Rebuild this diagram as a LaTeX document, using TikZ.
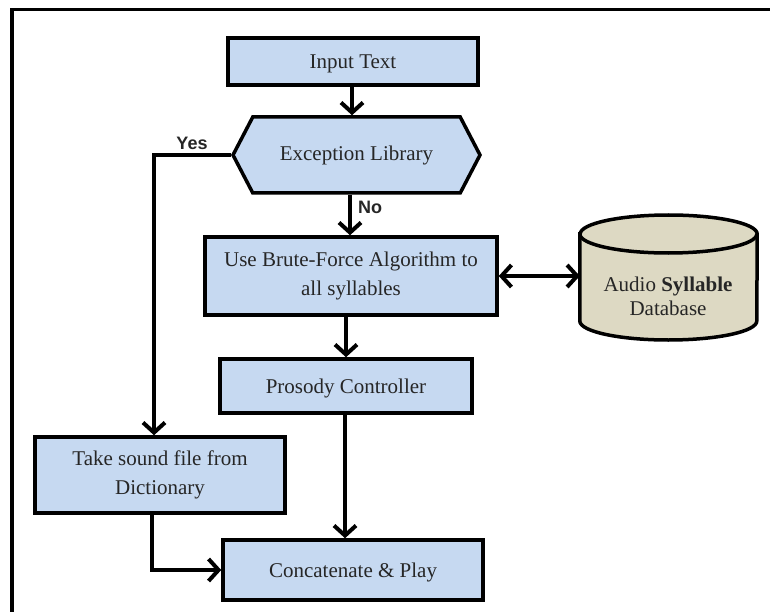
\documentclass[tikz,border=0pt]{standalone}
\usepackage{fontspec}
\setmainfont{Liberation Serif}
\newfontfamily\answerfont{Liberation Sans}
\usetikzlibrary{arrows.meta,shapes.geometric,shapes.symbols}

\definecolor{boxblue}{HTML}{C6D9F1}
\definecolor{dbtan}{HTML}{DDD9C3}
\definecolor{inkgray}{HTML}{262626}

\tikzset{
  box/.style={draw=black, line width=3.5pt, fill=boxblue, text=inkgray,
    font=\fontsize{21}{29}\selectfont, align=center, inner sep=0pt},
  hexbox/.style={box, signal, signal to=west and east, signal pointer angle=125},
  dbline/.style={draw=black, line width=3.5pt},
  arr/.style={line width=4pt, -{Straight Barb[length=10pt,width=22pt]}},
  dblarr/.style={line width=4pt, {Straight Barb[length=10pt,width=22pt]}-{Straight Barb[length=10pt,width=22pt]}},
  answer/.style={font=\answerfont\bfseries\fontsize{18}{20}\selectfont, text=inkgray, inner sep=0pt}
}

\begin{document}
\begin{tikzpicture}[x=1pt,y=-1pt]
\useasboundingbox (0,0) rectangle (770,612);

% frame edges
\draw[line width=3.8pt, line join=miter] (770,9.5) -- (12,9.5) -- (12,612);

% process steps
\node[box, minimum width=250, minimum height=47, text depth=-2pt] (input) at (353,61.5) {Input Text};
\node[hexbox, minimum width=247, minimum height=76] (exc) at (356.5,155) {Exception Library};
\node[box, minimum width=292, minimum height=78] (brute) at (351,276) {Use Brute-Force Algorithm to\\all syllables};
\node[box, minimum width=252, minimum height=54, text depth=-1pt] (pros) at (346,386) {Prosody Controller};
\node[box, minimum width=250, minimum height=76] (take) at (160,475) {Take sound file from\\Dictionary};
\node[box, minimum width=260, minimum height=60, text depth=-1pt] (conc) at (353,570) {Concatenate \& Play};

% syllable store: a cylinder standing upright
\node[minimum width=177, minimum height=125, inner sep=0pt] (db) at (668.5,277.5) {};
\draw[dbline, fill=dbtan] (db.west |- 0,234) -- (db.west |- 0,321)
  arc[start angle=180, end angle=360, x radius=88.5pt, y radius=19pt]
  -- (db.east |- 0,234)
  arc[start angle=0, end angle=180, x radius=88.5pt, y radius=19pt] -- cycle;
\draw[dbline] (db.west |- 0,234)
  arc[start angle=180, end angle=360, x radius=88.5pt, y radius=19pt];
\node[text=inkgray, font=\fontsize{21}{24}\selectfont, align=center, inner sep=0pt] (dbtext) at (668,296)
  {Audio \textbf{Syllable}\\Database};

% connectors
\draw[arr] (input.south -| 352,0) -- (exc.north -| 352,0);
\draw[arr] (exc.south -| 350,0) -- (brute.north -| 350,0)
  node[answer, pos=0.3, right=6pt] (no) {No};
\draw[arr] (exc.west) -| ([xshift=-6pt]take.north);
\node[answer] (yes) at (192,143) {Yes};
\draw[dblarr] (brute.east) -- (brute.east -| db.west);
\draw[arr] (pros.north |- brute.south) -- (pros.north);
\draw[arr] ([xshift=-1pt]pros.south) -- ([xshift=-1pt]pros.south |- conc.north);
\draw[arr] ([xshift=-8pt]take.south) |- (conc.west);
\end{tikzpicture}
\end{document}
